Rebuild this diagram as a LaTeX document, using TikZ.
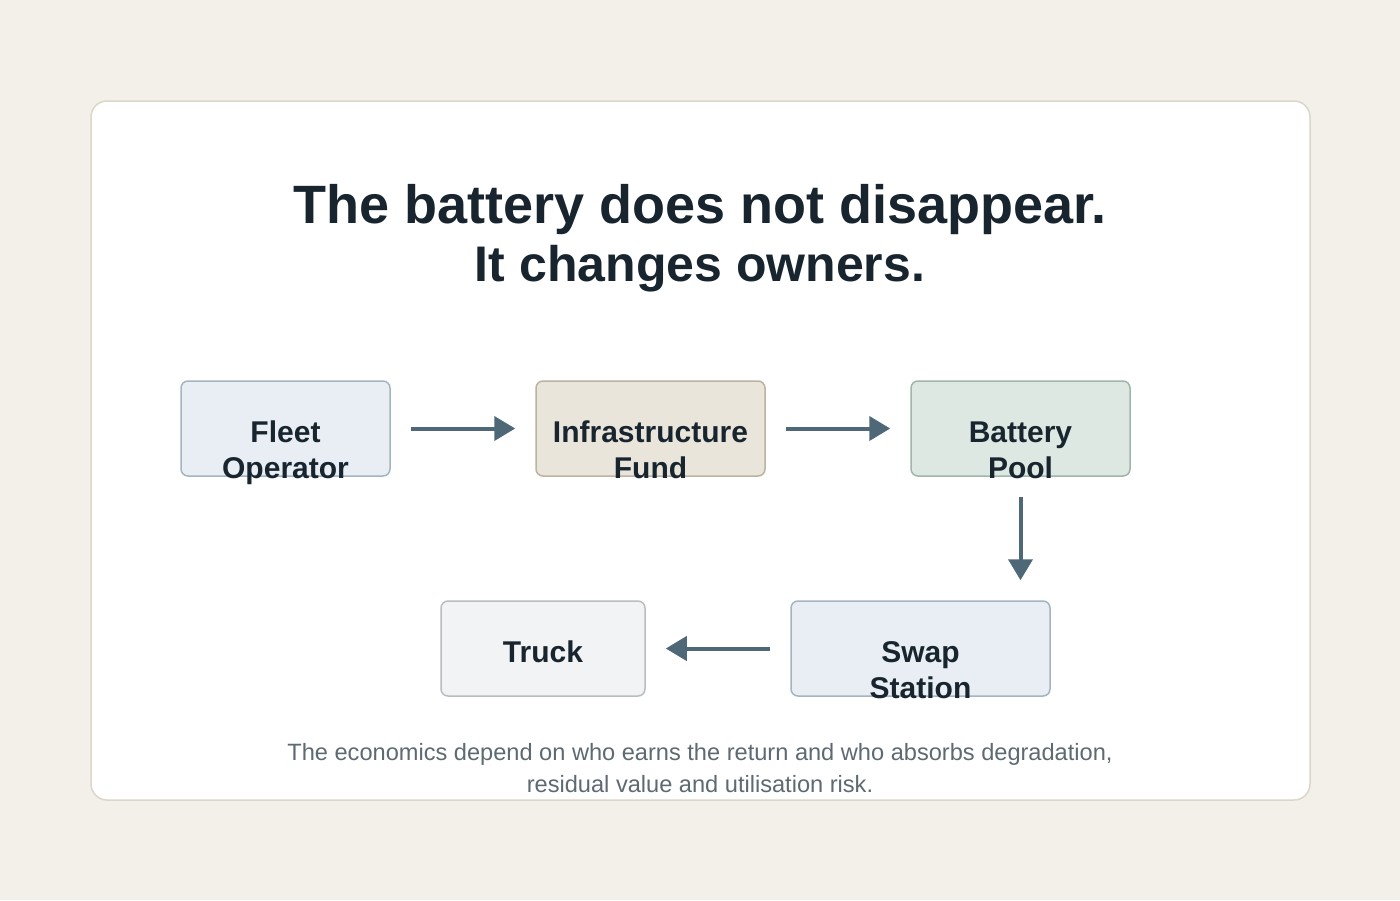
\documentclass[tikz,border=0pt]{standalone}
\usepackage{fontspec}
\setmainfont{Liberation Sans}
\usetikzlibrary{arrows.meta,positioning,calc}
\definecolor{pagebg}{HTML}{F3F0E9}
\definecolor{cardline}{HTML}{DDD6CA}
\definecolor{inkdark}{HTML}{18252F}
\definecolor{flowcol}{HTML}{4F6877}
\definecolor{notegray}{HTML}{5E6A72}
\definecolor{bluefill}{HTML}{E8EEF3}
\definecolor{blueline}{HTML}{A3B5C1}
\definecolor{sandfill}{HTML}{E9E5DB}
\definecolor{sandline}{HTML}{BCB2A3}
\definecolor{greenfill}{HTML}{DCE8E1}
\definecolor{greenline}{HTML}{A0B6AA}
\definecolor{greyfill}{HTML}{F1F3F5}
\definecolor{greyline}{HTML}{B9BDC0}
\tikzset{
  stage/.style={draw, rounded corners=7pt, line width=1.5pt, inner sep=0pt, minimum height=95pt},
  stagelbl/.style={font=\fontsize{30}{36}\selectfont\bfseries, text=inkdark, align=center,
                   anchor=base, inner sep=0pt},
  twoline/.style={yshift=-36pt},
  flow/.style={-{Triangle[length=21pt, width=24pt]}, flowcol, line width=4pt,
               shorten <=20pt, shorten >=20pt},
  heading/.style={font=\fontsize{54}{58}\selectfont\bfseries, text=inkdark, align=center},
  note/.style={font=\fontsize{23.6}{32}\selectfont, text=notegray, align=center},
}

\begin{document}
\begin{tikzpicture}[x=1pt, y=-1pt]
    % page and card
    \fill[pagebg] (0,0) rectangle (1400,900);
    \draw[cardline, fill=white, line width=1.5pt, rounded corners=16pt] (91,101) rectangle (1310,800);
    \node[heading, anchor=base] (head) at (700,281)
      {The battery does not disappear.\\\fontsize{50}{58}\selectfont It changes owners.};
    % top row
    \node[stage, fill=bluefill, draw=blueline, minimum width=209pt] (fleet) at (285.5,428.5) {};
    \node[stage, fill=sandfill, draw=sandline, minimum width=229pt, right=144.5pt of fleet] (infra) {};
    \node[stage, fill=greenfill, draw=greenline, minimum width=219pt, right=144.5pt of infra] (pool) {};
    % bottom row
    \node[stage, fill=bluefill, draw=blueline, minimum width=259pt] (swap) at (920.5,648.5) {};
    \node[stage, fill=greyfill, draw=greyline, minimum width=204pt, left=144.5pt of swap] (truck) {};
    \node[stagelbl, twoline] (fleetlbl) at ($(fleet.center)+(0,13.5)$) {Fleet\\Operator};
    \node[stagelbl, twoline] (infralbl) at ($(infra.center)+(0,13.5)$) {Infrastructure\\Fund};
    \node[stagelbl, twoline] (poollbl) at ($(pool.center)+(0,13.5)$) {Battery\\Pool};
    \node[stagelbl, twoline] (swaplbl) at ($(swap.center)+(0,13.5)$) {Swap\\Station};
    \node[stagelbl] (trucklbl) at ($(truck.center)+(0,13.5)$) {Truck};
    % flows
    \draw[flow] (fleet.east) -- (infra.west);
    \draw[flow] (infra.east) -- (pool.west);
    \draw[flow] (pool.south) -- (pool.south |- swap.north);
    \draw[flow] (swap.west) -- (truck.east);
    \node[note] (foot) at (700,768) {The economics depend on who earns the return and who absorbs degradation,\\residual value and utilisation risk.};
\end{tikzpicture}
\end{document}
